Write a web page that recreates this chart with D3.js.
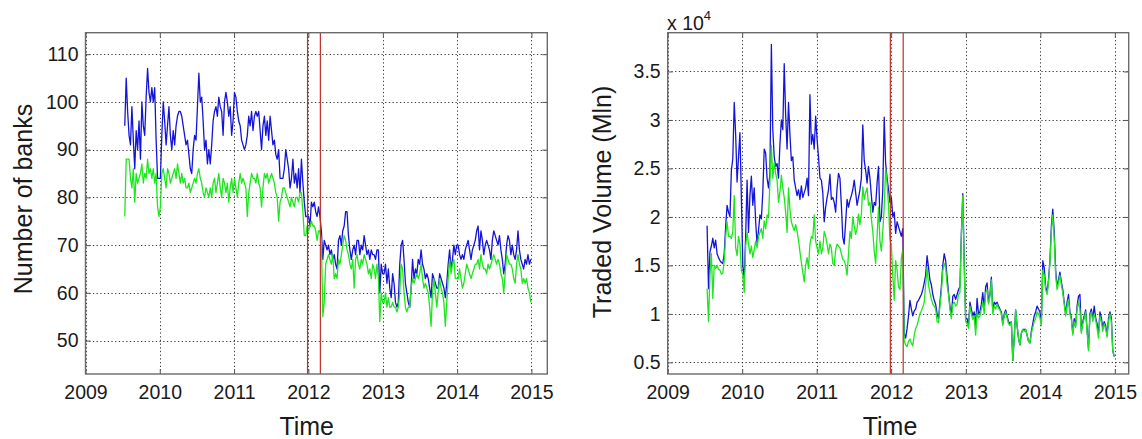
<!DOCTYPE html>
<html>
<head>
<meta charset="utf-8">
<script src="https://cdn.jsdelivr.net/npm/d3@7"></script>
<style>
  html, body { margin: 0; padding: 0; background: #fff; }
  svg { display: block; font-family: "Liberation Sans", Arial, Helvetica, sans-serif; }
</style>
</head>
<body>
<svg id="chart" width="1142" height="439"></svg>
<script>
// Weekly observations, first week starting on this date
const firstWeek = "2009-07-13";
// ECB three-year LTRO allotments
const ltroDates = ["2011-12-28", "2012-02-29"];

const yearTicks = [2009, 2010, 2011, 2012, 2013, 2014, 2015];
const bankTicks = [50, 60, 70, 80, 90, 100, 110];
const volumeTicks = [0.5, 1, 1.5, 2, 2.5, 3, 3.5];

// Number of banks active per week: all maturities (blue) and overnight (green)
const banksAll = [
  95,105,98,93,91,99,92,86,94,90,96,88,100,95,93,101,107,102,100,103,100,103,92,84,84,
  84,93,100,96,91,95,99,93,90,94,91,95,97,98,98,97,95,93,91,92,89,86,85,90,93,92,99,106,100,101,96,90,92,87,90,87,91,96,98,99,97,101,99,98,93,100,102,100,97,99,93,96,
  102,101,98,96,95,92,91,90,91,93,97,95,98,94,97,98,97,98,94,90,95,97,93,96,92,97,94,91,92,89,88,90,84,84,84,86,90,88,86,82,84,88,83,85,82,86,81,88,83,79,76,76,
  76,74,79,78,79,77,76,78,76,73,67,71,70,69,70,68,69,67,68,66,65,71,72,70,73,74,77,77,72,69,67,69,70,68,71,71,68,70,69,72,70,68,69,67,69,68,68,67,69,69,60,66,64,
  64,66,62,65,61,59,64,62,58,57,58,66,70,71,67,62,60,58,57,61,67,63,65,64,67,66,69,66,65,63,64,63,61,59,64,63,62,61,61,64,63,62,61,59,62,66,69,65,67,70,68,70,
  70,68,67,68,67,69,70,71,69,67,69,70,71,73,74,69,73,71,68,70,71,70,69,67,71,73,72,71,70,72,69,67,64,66,70,72,71,68,70,68,67,69,73,69,67,66,65,67,66,68,66,67
];
const banksOvernight = [
  76,88,88,88,84,82,86,79,85,83,84,85,87,83,85,84,88,85,86,84,86,83,85,78,76,
  78,85,86,84,82,86,85,83,84,85,86,84,87,85,83,85,83,84,82,82,83,81,82,83,84,83,85,86,84,83,81,80,82,81,80,82,80,83,84,81,83,85,82,80,84,83,81,83,79,82,84,81,
  84,82,80,83,85,83,84,83,82,76,81,83,85,84,84,83,85,83,82,78,82,85,84,85,83,84,85,84,83,81,80,75,79,80,82,82,81,80,79,78,80,79,78,80,80,79,81,81,77,72,72,74,
  73,74,75,74,74,73,71,73,73,71,55,58,66,67,68,67,66,68,63,64,63,67,66,68,70,72,71,69,68,66,65,67,61,67,68,66,65,67,66,68,67,66,64,65,63,66,65,63,66,63,54,60,58,
  58,60,57,59,57,57,58,57,57,56,57,60,66,65,60,57,56,57,57,61,63,62,63,64,63,64,66,63,61,62,61,60,57,53,60,63,60,57,60,63,61,60,58,53,58,63,67,64,66,67,63,63,
  63,65,63,61,62,64,66,65,64,63,64,65,66,66,67,65,68,66,65,65,64,66,65,66,67,68,67,66,67,66,64,63,60,64,68,67,66,66,65,63,62,66,68,66,65,62,63,62,63,61,60,58
];

// Weekly traded volume in units of 10^4 Mln: all maturities (blue) and overnight (green)
const volumeAll = [
  1.91,1.26,1.64,1.70,1.78,1.68,1.76,1.62,1.58,1.55,1.53,1.52,1.62,1.90,2.12,2.05,2.00,2.48,2.60,3.18,2.85,2.36,2.62,2.87,2.20,
  1.50,1.36,1.80,2.38,1.84,2.22,2.42,2.12,2.30,1.95,1.72,1.86,2.02,1.98,2.25,2.70,2.66,2.40,2.30,2.45,3.78,2.90,2.62,2.52,2.55,2.40,2.75,3.00,2.90,3.58,3.05,2.70,3.18,2.85,2.58,2.62,2.38,2.30,2.22,2.28,2.18,2.32,2.20,2.25,2.30,2.40,2.22,3.26,2.75,2.85,2.70,3.04,
  2.80,2.62,2.40,2.38,2.25,1.95,2.10,2.20,2.28,2.44,2.18,2.20,2.15,2.05,2.30,2.45,2.40,2.12,1.79,1.72,1.95,2.18,2.10,2.17,2.22,2.28,2.38,2.25,2.12,2.20,2.28,2.40,2.95,2.58,2.48,2.35,2.52,2.40,2.22,2.05,2.15,2.12,2.35,2.52,1.95,2.00,2.28,3.03,2.55,2.40,2.28,2.15,
  2.20,2.00,2.05,1.83,1.95,1.90,1.85,1.80,1.88,0.80,0.75,0.85,0.98,1.14,1.05,0.98,1.03,1.05,1.12,1.14,1.17,1.20,1.25,1.32,1.40,1.60,1.48,1.35,1.30,1.20,1.14,1.10,1.00,0.95,1.12,1.28,1.50,1.62,1.55,1.38,1.22,1.08,0.98,1.18,1.20,1.15,1.20,1.25,1.28,1.82,2.24,1.55,0.95,
  0.95,0.88,1.12,1.05,0.98,1.02,0.85,1.16,1.00,1.02,1.10,1.22,1.05,1.28,1.32,1.12,1.20,1.38,1.02,1.12,1.10,1.12,1.08,1.05,1.02,0.90,1.00,1.04,0.98,0.92,0.90,0.92,0.52,0.75,1.04,0.88,0.75,0.68,0.80,0.84,0.84,0.84,0.78,0.72,0.70,0.82,0.90,0.98,1.02,1.08,1.05,1.02,
  0.90,1.55,1.48,1.28,1.22,1.35,1.55,1.90,2.08,1.85,1.45,1.28,1.35,1.43,1.33,1.25,1.12,1.00,1.12,1.20,1.02,0.96,0.80,0.95,0.88,1.08,1.18,1.20,0.82,0.92,0.98,1.04,0.84,0.64,1.00,1.05,0.95,1.08,0.96,0.90,0.80,1.02,0.96,0.86,0.92,0.88,0.78,0.95,1.02,0.96,0.62,0.56
];
const volumeOvernight = [
  1.26,0.92,1.40,1.62,1.16,1.50,1.47,1.50,1.46,1.45,1.41,1.42,1.55,1.80,1.95,1.80,1.80,1.78,1.85,2.22,1.68,1.60,1.80,1.72,1.45,
  1.40,1.22,1.70,1.84,1.72,1.62,1.70,1.58,1.66,1.75,1.68,1.80,1.84,1.88,1.78,1.96,1.88,2.02,2.00,2.36,2.74,2.40,2.56,2.45,2.38,2.15,2.26,2.43,2.30,2.20,2.05,1.84,2.30,2.08,1.95,1.90,1.86,1.92,1.85,1.76,1.64,1.53,1.43,1.33,1.50,1.58,1.47,1.72,1.80,1.78,2.02,1.75,
  1.68,1.62,1.75,1.62,1.68,1.85,1.80,1.72,1.62,1.72,1.68,1.52,1.50,1.66,1.72,1.70,1.68,1.62,1.56,1.55,1.50,1.40,1.62,1.85,1.78,2.00,1.90,1.82,1.88,2.03,1.92,2.03,2.31,2.18,2.25,2.30,2.12,2.15,1.98,1.85,1.65,1.52,1.80,2.10,1.75,1.65,1.85,2.10,2.50,2.34,2.12,1.78,
  1.70,1.40,1.14,1.55,1.45,1.28,1.25,1.58,1.66,0.72,0.68,0.66,0.72,0.74,0.70,0.67,0.78,0.85,0.88,0.94,1.00,1.03,1.07,1.12,1.30,1.48,1.30,1.22,1.15,1.10,1.08,1.05,0.92,0.91,1.08,1.22,1.45,1.52,1.48,1.30,1.20,1.05,0.95,1.10,1.12,1.08,1.10,1.20,1.22,1.80,2.22,1.50,0.92,
  0.90,0.85,1.08,1.00,0.94,0.98,0.78,1.02,0.96,0.98,1.05,1.12,1.00,1.22,1.25,1.10,1.18,1.35,1.00,1.08,1.05,1.10,1.06,1.04,1.00,0.88,0.98,1.02,0.96,0.90,0.88,0.92,0.52,0.75,1.04,0.88,0.75,0.68,0.80,0.84,0.82,0.84,0.78,0.72,0.70,0.80,0.86,0.92,0.95,1.02,1.00,0.96,
  0.88,1.45,1.40,1.25,1.20,1.32,1.52,1.85,2.02,1.78,1.40,1.25,1.32,1.40,1.30,1.22,1.10,0.98,1.08,1.15,1.00,0.94,0.78,0.92,0.86,1.05,1.12,1.05,0.80,0.90,0.95,1.02,0.82,0.62,0.98,1.02,0.92,1.00,0.94,0.85,0.75,0.98,0.92,0.82,0.90,0.85,0.76,0.92,1.00,0.92,0.62,0.56
];

const BLUE = "#1414d8";
const GREEN = "#1ee61e";
const RED = "#c0302a";

const parseDay = d3.utcParse("%Y-%m-%d");
const start = parseDay(firstWeek);
const weeks = banksAll.map((_, i) => d3.utcDay.offset(start, 7 * i));
const svg = d3.select("#chart");

function drawPanel(cfg) {
  const top = 32.7, bottom = 374;
  const x = d3.scaleUtc()
    .domain([Date.UTC(2009, 0, 1), parseDay(cfg.xEnd)])
    .range([cfg.left, cfg.right]);
  const y = d3.scaleLinear().domain(cfg.yDomain).range([bottom, top]);
  const g = svg.append("g");
  const tickDates = yearTicks.map(yr => new Date(Date.UTC(yr, 0, 1)));

  const clipId = "clip-" + cfg.id;
  svg.append("clipPath").attr("id", clipId)
    .append("rect").attr("x", cfg.left).attr("y", top)
    .attr("width", cfg.right - cfg.left).attr("height", bottom - top);

  // dotted grid
  const grid = g.append("g").attr("stroke", "#2a2a2a").attr("stroke-width", 0.9)
    .attr("stroke-dasharray", "1.3,2.4").attr("fill", "none");
  tickDates.forEach(d => {
    const px = Math.round(x(d)) + 0.5;
    grid.append("line").attr("x1", px).attr("x2", px).attr("y1", top).attr("y2", bottom);
  });
  cfg.yTicks.forEach(v => {
    const py = Math.round(y(v)) + 0.5;
    grid.append("line").attr("x1", cfg.left).attr("x2", cfg.right).attr("y1", py).attr("y2", py);
  });

  // series
  const line = d3.line().x((d, i) => x(weeks[i])).y(d => y(d));
  const plot = g.append("g").attr("clip-path", `url(#${clipId})`);
  plot.append("path").datum(cfg.blue).attr("d", line)
    .attr("fill", "none").attr("stroke", BLUE).attr("stroke-width", 1.3).attr("stroke-linejoin", "round");
  plot.append("path").datum(cfg.green).attr("d", line)
    .attr("fill", "none").attr("stroke", GREEN).attr("stroke-width", 1.3).attr("stroke-linejoin", "round");

  // LTRO markers
  ltroDates.forEach(s => {
    const px = x(parseDay(s));
    plot.append("line").attr("x1", px).attr("x2", px).attr("y1", top).attr("y2", bottom)
      .attr("stroke", RED).attr("stroke-width", 1.2);
  });

  // axes with inward ticks, mirrored on the opposite sides
  const tl = 5;
  const xb = d3.axisBottom(x).tickValues(tickDates).tickSize(-tl).tickPadding(11)
    .tickFormat(d3.utcFormat("%Y"));
  const xt = d3.axisTop(x).tickValues(tickDates).tickSize(-tl).tickFormat("");
  const yl = d3.axisLeft(y).tickValues(cfg.yTicks).tickSize(-tl).tickPadding(7).tickFormat(cfg.fmt);
  const yr = d3.axisRight(y).tickValues(cfg.yTicks).tickSize(-tl).tickFormat("");
  const axes = [
    g.append("g").attr("transform", `translate(0,${bottom})`).call(xb),
    g.append("g").attr("transform", `translate(0,${top})`).call(xt),
    g.append("g").attr("transform", `translate(${cfg.left},0)`).call(yl),
    g.append("g").attr("transform", `translate(${cfg.right},0)`).call(yr)
  ];
  axes.forEach(a => {
    a.select(".domain").remove();
    a.selectAll(".tick line").attr("stroke", "#555").attr("stroke-width", 1);
    a.selectAll("text").attr("fill", "#1a1a1a").attr("font-size", "19.5px")
      .attr("font-family", '"Liberation Sans", Arial, sans-serif');
  });

  // frame
  g.append("rect").attr("x", cfg.left).attr("y", top)
    .attr("width", cfg.right - cfg.left).attr("height", bottom - top)
    .attr("fill", "none").attr("stroke", "#6b6b6b").attr("stroke-width", 1.4);

  // labels
  g.append("text").attr("x", cfg.timeX).attr("y", 435).attr("text-anchor", "middle")
    .attr("font-size", "25px").attr("fill", "#1a1a1a").text("Time");
  g.append("text").attr("transform", `translate(${cfg.labelX},${cfg.labelY}) rotate(-90)`)
    .attr("text-anchor", "middle").attr("font-size", "25px").attr("fill", "#1a1a1a").text(cfg.label);
  return { x, y };
}

drawPanel({
  id: "banks", left: 85.5, right: 547.3, xEnd: "2015-03-20",
  yDomain: [43, 114.5], yTicks: bankTicks, fmt: d3.format("d"),
  blue: banksAll, green: banksOvernight,
  label: "Number of banks", labelX: 31.5, labelY: 199, timeX: 306.7
});

drawPanel({
  id: "volume", left: 667.7, right: 1128.7, xEnd: "2015-03-10",
  yDomain: [0.38, 3.9], yTicks: volumeTicks, fmt: v => String(v),
  blue: volumeAll, green: volumeOvernight,
  label: "Traded Volume (Mln)", labelX: 611, labelY: 202, timeX: 890
});

// exponent note for the volume axis
const expo = svg.append("text").attr("x", 667).attr("y", 30)
  .attr("font-size", "19.5px").attr("fill", "#1a1a1a");
expo.append("tspan").text("x 10");
expo.append("tspan").attr("dy", -10).attr("font-size", "13px").text("4");
</script>
</body>
</html>
